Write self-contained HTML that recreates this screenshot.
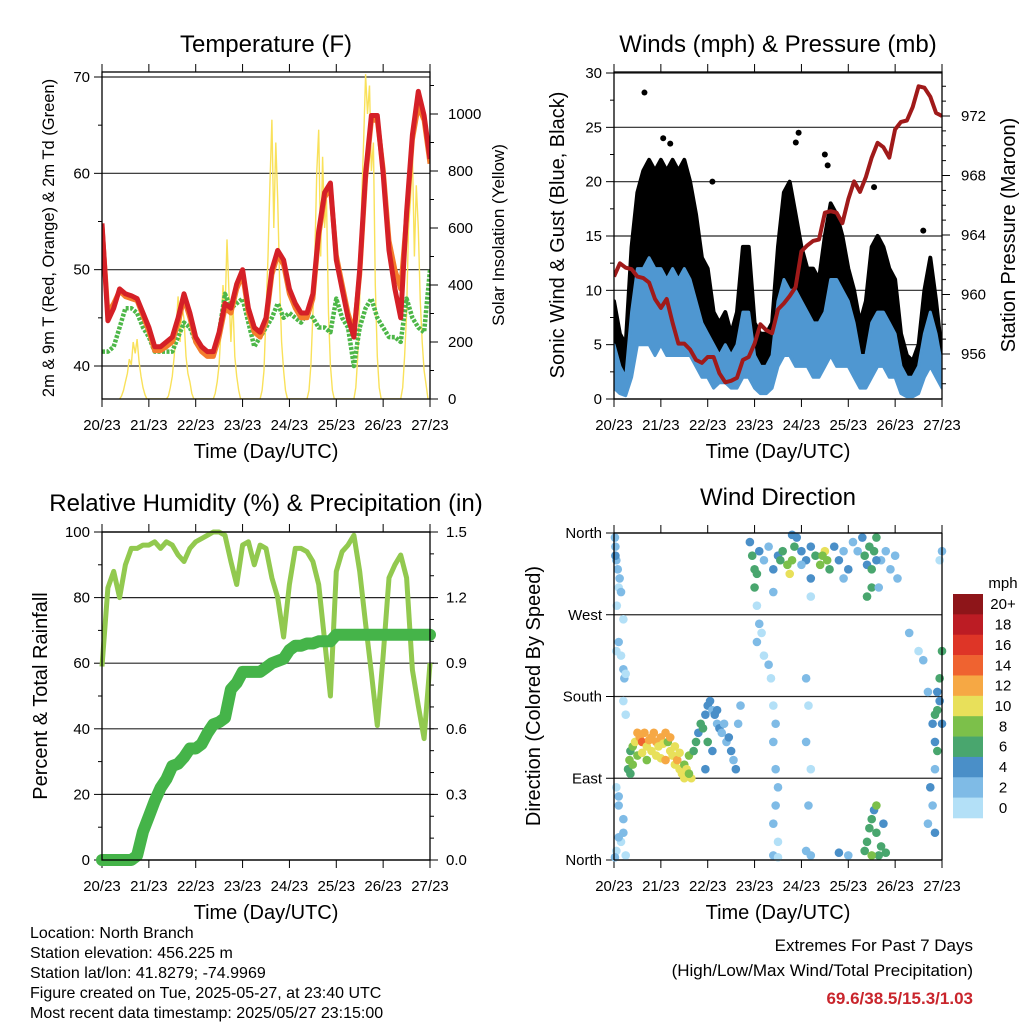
<!DOCTYPE html>
<html><head><meta charset="utf-8">
<style>
html,body{margin:0;padding:0;background:#fff;}
svg{display:block;font-family:"Liberation Sans",Arial,sans-serif;}
</style></head>
<body>
<svg id="fig" xmlns="http://www.w3.org/2000/svg" width="1024" height="1024" viewBox="0 0 1024 1024">
<rect x="0" y="0" width="1024" height="1024" fill="#fff"/>
<text x="266" y="52" font-size="24" text-anchor="middle">Temperature (F)</text>
<text x="778" y="52" font-size="24" text-anchor="middle">Winds (mph) &amp; Pressure (mb)</text>
<text x="266" y="511" font-size="24" text-anchor="middle">Relative Humidity (%) &amp; Precipitation (in)</text>
<text x="778" y="505" font-size="24" text-anchor="middle">Wind Direction</text>

<text transform="translate(54,238) rotate(-90)" font-size="16.5" text-anchor="middle">2m &amp; 9m T (Red, Orange) &amp; 2m Td (Green)</text>
<text transform="translate(504,235) rotate(-90)" font-size="17" text-anchor="middle">Solar Insolation (Yellow)</text>
<text transform="translate(564,235) rotate(-90)" font-size="20" text-anchor="middle">Sonic Wind &amp; Gust (Blue, Black)</text>
<text transform="translate(1015,235) rotate(-90)" font-size="20" text-anchor="middle">Station Pressure (Maroon)</text>
<text transform="translate(47,696) rotate(-90)" font-size="20" text-anchor="middle">Percent &amp; Total Rainfall</text>
<text transform="translate(540,696) rotate(-90)" font-size="20" text-anchor="middle">Direction (Colored By Speed)</text>

<text x="266" y="458" font-size="20" text-anchor="middle">Time (Day/UTC)</text>
<text x="778" y="458" font-size="20" text-anchor="middle">Time (Day/UTC)</text>
<text x="266" y="919" font-size="20" text-anchor="middle">Time (Day/UTC)</text>
<text x="778" y="919" font-size="20" text-anchor="middle">Time (Day/UTC)</text>

<g font-size="16">
<text x="30" y="938">Location: North Branch</text>
<text x="30" y="958">Station elevation: 456.225 m</text>
<text x="30" y="978">Station lat/lon: 41.8279; -74.9969</text>
<text x="30" y="998">Figure created on Tue, 2025-05-27, at 23:40 UTC</text>
<text x="30" y="1018">Most recent data timestamp: 2025/05/27 23:15:00</text>
</g>
<g font-size="17" text-anchor="end">
<text x="973" y="951">Extremes For Past 7 Days</text>
<text x="973" y="976">(High/Low/Max Wind/Total Precipitation)</text>
<text x="973" y="1004" fill="#c9252c" font-weight="bold">69.6/38.5/15.3/1.03</text>
</g>
<g id="layer"></g>
</svg>
<script>
// ---------- data (3-hourly, 57 samples from 20/23 to 27/23) ----------
var dayLabels = ["20/23","21/23","22/23","23/23","24/23","25/23","26/23","27/23"];
var tempRed = [54.8,44.7,46,48,47.5,47.3,47,45.5,44,42,42,42.5,43,45,47.5,45.5,43,42,41.5,41.5,43.5,46.5,46,48.5,50,46,44,43.5,45,50,52,51,48,46.5,45.5,45.5,47.5,54,58,59,51,48,45,43,50,60,66,66,60,52,48,45,56,64,68.5,66,61.5];
var tempOrange = [54.5,45.5,46.5,47.8,47.2,47,46.8,45.2,43.6,41.6,41.6,42,42.5,44.5,47,45,42.5,41.5,41,41,43,46,45.5,48,49.5,45.5,43.5,43,44.5,49.5,51.5,50.5,47.5,46,45,45,47,53.5,57.5,58.5,51.5,48.5,45.5,43.5,49.5,59.5,65.5,65.5,60.5,53,50,48,55.5,63.5,67,65.5,61];
var dewGreen = [41.5,41.5,42,44,46,46,45.5,44,43,41.5,41.5,41.5,41.5,43,44.5,44,42.5,41.5,41.5,41,43.5,47.5,46,46.5,47,44.5,42,43,44,45,46.5,45,45.5,45,44.5,45.5,45,44,44,43.5,47,45,44,40,44,46,47,45,44,43,43,42.5,47,45,44,43.5,50];
// hourly solar insolation, W/m2, per day (hours 10..23 after 20/23); night = 0
var solarDay1 = [10,30,60,90,140,120,200,160,210,130,80,40,15,0];
var solarDay2 = [10,40,80,150,250,360,200,330,280,150,90,60,20,0];
var solarDay3 = [20,60,120,250,400,300,560,380,200,350,150,80,30,0];
var solarDay4 = [30,100,300,500,750,980,600,900,700,400,200,100,30,0];
var solarDay5 = [30,120,300,500,800,945,500,850,600,700,300,120,30,0];
var solarDay6 = [40,150,350,700,900,1140,1000,1100,800,900,400,150,40,0];
var solarDay7 = [40,150,300,600,700,860,500,750,600,350,200,100,50,0];
var gustHi = [9,6,5,14,19,21,22,21,22,21,22,21,22,20,17,13,12,8,7,8,6,8,14,14,7,6,6,7,14,19,20,17,14,12,12,11,15,18,17,15,12,10,7,9,14,15,14,12,11,6,4,3.5,5,10,13,9,4];
var gustLo = [3,1,1,6,9,9,9,8,8,9,8,9,9,8,7,5,4,3,3,3,3,2,4,5,2,1,1.5,2,5,7,8,6,5,5,5,4,5,7,6,5,5,4,2,2,5,6,5,5,4,2,1.5,1,1.5,3,5,3,2];
var windHi = [5,3,2,8,12,12,13,12,12,11,12,11,12,11,9,7,6,5,4,5,4,5,8,8,4,3,3,4,9,11,10,10,9,8,7,7,8,11,11,10,9,7,4,4,7,8,8,7,6,3,2,2,3,6,8,6,3];
var windLo = [1,0.5,0.3,2,5,5,5,4,5,4,4,4,4,4,3,2,2,1,1.5,1.5,1,1,2,2,1,0.5,0.5,1,3,4,4,3,3,3,2,2,3,4,3,3,3,2,1,1,2,3,3,2,2,0.5,0.2,0.2,0.5,2,3,2,1];
var gustPeakDay = [0.65,3.94,1.05,1.2,3.88,4.5,4.56,2.1,5.55,6.6];
var gustPeakMph = [28.2,24.5,24,23.5,23.6,22.5,21.5,20,19.5,15.5];
var pressure = [961.2,962.1,961.8,961.7,961.2,961.1,960.8,959.7,959.1,959.7,958.1,956.7,956.7,956.3,955.6,955.4,955.8,955.8,954.7,954.1,954.2,954.4,955.6,955.8,956.7,958,957.6,957.4,959,959.4,959.9,960.5,962.9,963.3,963.6,963.7,965.5,965.6,965.5,964.8,966.4,967.6,966.9,967.9,969.2,970.2,969.9,969.2,971.1,971.6,971.7,972.6,974,973.9,973.3,972.2,972];
var humidity = [59,83,88,80,90,95,95,96,96,97,95,97,96,93,91,95,97,98,99,100,100,99,91,84,96,97,90,96,95,86,80,68,84,95,95,94,91,84,67,50,88,94,96,99,88,72,57,41,62,86,90,93,86,58,47,37,60];
var rainfall = [0,0,0,0,0,0,0.02,0.13,0.2,0.27,0.33,0.37,0.43,0.44,0.47,0.51,0.51,0.53,0.58,0.62,0.63,0.65,0.78,0.81,0.86,0.86,0.86,0.86,0.88,0.9,0.91,0.92,0.96,0.98,0.98,0.99,0.99,1,1,1,1.03,1.03,1.03,1.03,1.03,1.03,1.03,1.03,1.03,1.03,1.03,1.03,1.03,1.03,1.03,1.03,1.03];
// wind direction observations: day offset, direction (deg), speed (mph)
var dirObs = [
[0.02,355,2],[0.03,345,3],[0.05,330,3],[0.08,320,2],[0.1,300,1],[0.12,310,2],[0.15,295,2],[0.03,335,4],[0.06,280,1],[0.2,265,1],[0.1,240,3],[0.15,225,1],[0.2,210,2],[0.22,200,2],[0.25,205,1],[0.05,230,1],[0.2,175,1],[0.25,160,1],
[0.05,80,1],[0.1,60,2],[0.2,45,2],[0.2,30,2],[0.15,20,1],[0.1,25,2],[0.05,10,1],[0.02,3,3],[0.25,5,1],[0.1,70,2],
[0.3,100,6],[0.33,110,8],[0.35,120,7],[0.4,125,8],[0.45,130,10],[0.5,140,12],[0.55,135,13],[0.6,130,14],[0.65,140,12],[0.7,125,10],[0.75,132,12],[0.8,135,13],[0.85,140,13],[0.9,130,12],[0.95,125,11],[1.0,135,12],[1.05,128,10],[1.1,140,13],[1.15,130,9],[1.2,120,10],[1.25,115,11],[1.3,105,10],[1.35,110,12],[1.4,100,10],[1.45,95,11],[1.5,105,9],[1.55,100,10],[1.6,115,8],[1.65,90,10],[1.7,120,7],[1.75,130,6],[1.8,140,5],[1.85,150,6],[1.9,145,7],[0.4,105,9],[0.5,115,8],[0.6,118,11],[0.7,110,9],[0.8,120,11],[0.9,115,10],[1.0,112,11],[1.1,110,12],[1.2,135,12],[1.3,125,11],[1.4,118,10],[0.35,95,6],[1.5,90,10],[1.6,95,9],
[1.95,160,5],[2.0,170,4],[2.05,175,4],[2.1,165,3],[2.15,160,5],[2.2,150,3],[2.25,145,4],[2.3,140,3],[2.35,150,2],[2.4,130,3],[2.45,135,4],[2.5,120,4],[2.55,110,3],[2.6,100,4],[2.65,150,3],[2.7,170,2],[2.0,130,6],[2.1,120,5],[1.95,100,5],[2.2,165,4],
[2.9,350,4],[2.95,335,6],[3.0,320,6],[3.05,315,6],[3.1,340,4],[3.2,330,2],[3.3,345,3],[3.4,320,4],[3.5,335,5],[3.6,340,7],[3.7,325,9],[3.75,315,10],[3.8,330,8],[3.85,345,6],[3.9,355,4],[4.0,340,5],[4.1,330,4],[4.2,345,5],[4.3,335,7],[4.4,325,8],[4.5,340,10],[4.55,330,9],[4.6,320,7],[4.7,345,5],[4.8,330,4],[4.9,340,3],[5.0,320,4],[5.1,350,3],[5.2,340,2],[5.3,355,5],[5.35,335,6],[5.4,325,5],[5.45,345,7],[5.5,320,6],[5.55,340,6],[5.6,355,7],[5.7,330,3],[5.8,340,2],[5.9,320,2],[6.0,335,2],[5.5,300,6],[5.4,290,7],[3.8,358,5],[4.2,310,4],[4.0,325,3],[3.4,295,3],[3.0,300,7],[3.55,330,7],[4.45,335,9],[5.6,330,4],[6.05,310,2],[5.65,300,3],[4.9,310,2],
[3.05,280,1],[3.1,260,2],[3.15,250,1],[3.05,240,2],[3.2,225,1],[3.3,215,2],[3.35,200,1],[3.4,170,1],[3.45,150,2],[3.4,130,3],[3.45,100,3],[3.5,80,2],[3.45,60,2],[3.4,40,3],[3.5,20,1],[3.4,5,2],[3.5,3,1],
[4.2,290,1],[4.1,200,2],[4.15,170,1],[4.1,130,2],[4.2,100,1],[4.15,60,2],[4.1,10,3],[4.2,5,2],[5.0,5,3],[4.8,8,4],
[5.35,10,6],[5.4,20,6],[5.45,35,7],[5.5,45,6],[5.55,55,4],[5.6,60,8],[5.65,5,6],[5.7,15,6],[5.75,40,5],[5.8,8,6],[5.5,5,8],[5.6,30,7],
[6.3,250,2],[6.5,230,1],[6.6,220,2],[6.7,185,2],[6.8,150,4],[6.85,130,4],[6.9,165,6],[6.95,175,5],[7.0,150,4],[6.85,100,3],[6.75,80,4],[6.8,60,3],[6.7,40,2],[6.85,30,4],[6.9,120,7],[6.95,200,7],[7.0,230,6],[6.95,330,1],[7.0,340,2],[6.9,185,5],[6.85,160,6]
];
var speedLabels = ["20+","18","16","14","12","10","8","6","4","2","0"];
var speedColors = ["#8e1519","#bc1c24","#de3527","#ef6330","#f6a844","#e8e05a","#7cc04a","#49a66e","#4a8fc8","#7fbbe6","#b3e0f7"];

// ---------- drawing ----------
var NS = "http://www.w3.org/2000/svg";
var layer = document.getElementById('layer');
function mk(tag, attrs, parent) {
  var e = document.createElementNS(NS, tag);
  for (var k in attrs) e.setAttribute(k, attrs[k]);
  (parent || layer).appendChild(e);
  return e;
}
function lin(d0, d1, r0, r1) { return function (v) { return r0 + (v - d0) / (d1 - d0) * (r1 - r0); }; }
function pathFrom(xs, ys) { var s = ""; for (var i = 0; i < xs.length; i++) s += (i ? "L" : "M") + xs[i].toFixed(1) + "," + ys[i].toFixed(1); return s; }

function frame(L, R, T, B, name) {
  var g = mk('g', {});
  
  
  return g;
}
function xAxis(g, L, R, T, B, labelY) {
  var x = lin(0, 7, L, R);
  for (var i = 0; i < dayLabels.length; i++) {
    var px = x(i);
    mk('line', {x1: px, y1: B, x2: px, y2: B + 8, stroke: '#000', 'stroke-width': 1}, g);
    mk('line', {x1: px, y1: T, x2: px, y2: T - 8, stroke: '#000', 'stroke-width': 1}, g);
    var t = mk('text', {x: px, y: labelY, 'font-size': 15, 'text-anchor': 'middle'}, g);
    t.textContent = dayLabels[i];
    
    
  }
  return x;
}
function yAxisLeft(g, L, R, y, ticks, labels, minors, grid) {
  for (var i = 0; i < ticks.length; i++) {
    var py = y(ticks[i]);
    mk('line', {x1: L - 8, y1: py, x2: L, y2: py, stroke: '#000'}, g);
    if (grid) mk('line', {x1: L, y1: py, x2: R, y2: py, stroke: '#000', 'stroke-width': 1.2, 'stroke-opacity': 0.85}, g);
    var t = mk('text', {x: L - 12, y: py + 5, 'font-size': 15, 'text-anchor': 'end'}, g);
    t.textContent = labels[i];
    
    
  }
  for (var j = 0; j < minors.length; j++) mk('line', {x1: L - 4, y1: y(minors[j]), x2: L, y2: y(minors[j]), stroke: '#000'}, g);
}
function yAxisRight(g, R, y, ticks, labels, minors, lx) {
  for (var i = 0; i < ticks.length; i++) {
    var py = y(ticks[i]);
    mk('line', {x1: R, y1: py, x2: R + 8, y2: py, stroke: '#000'}, g);
    var t = mk('text', {x: lx, y: py + 5, 'font-size': 15}, g);
    t.textContent = labels[i];
    
    
  }
  for (var j = 0; j < minors.length; j++) mk('line', {x1: R, y1: y(minors[j]), x2: R + 4, y2: y(minors[j]), stroke: '#000'}, g);
}
function border(g, L, R, T, B) {
  mk('rect', {x: L, y: T, width: R - L, height: B - T, fill: 'none', stroke: '#000', 'stroke-width': 1.3}, g);
}
function range(a, b, s) { var r = []; for (var v = a; v <= b + 1e-9; v += s) r.push(+v.toFixed(3)); return r; }
function tIndexDays(n) { var r = []; for (var i = 0; i < n; i++) r.push(i / 8); return r; }

// ===== Panel 1: temperature =====
(function () {
  var L = 102, R = 430, T = 72, B = 399;
  var g = frame(L, R, T, B, 'temperature-panel');
  var x = xAxis(g, L, R, T, B, 430);
  var y = lin(40, 70, 366, 77);
  var ys = lin(0, 1000, 399, 114);
  yAxisLeft(g, L, R, y, [40, 50, 60, 70], ["40", "50", "60", "70"], [45, 55, 65], true);
  yAxisRight(g, R, ys, [0, 200, 400, 600, 800, 1000], ["0", "200", "400", "600", "800", "1000"], range(100, 1100, 100), 448);
  var cp = mk('clipPath', {id: 'c1'}, g); mk('rect', {x: L, y: T, width: R - L, height: B - T}, cp);
  var pg = mk('g', {'clip-path': 'url(#c1)'}, g);
  var days = [solarDay1, solarDay2, solarDay3, solarDay4, solarDay5, solarDay6, solarDay7];
  var sx = [], sy = [];
  for (var d = 0; d < days.length; d++) {
    sx.push(x(d + 9 / 24)); sy.push(ys(0));
    for (var h = 0; h < days[d].length; h++) { sx.push(x(d + (10 + h) / 24)); sy.push(ys(days[d][h])); }
  }
  var sp = mk('path', {d: pathFrom(sx, sy), fill: 'none', stroke: '#f9e15a', 'stroke-width': 1.4}, pg);
  
  
  var td = tIndexDays(tempRed.length);
  var xs = td.map(x);
  var gp = mk('path', {d: pathFrom(xs, dewGreen.map(y)), fill: 'none', stroke: '#4db748', 'stroke-width': 4.5, 'stroke-dasharray': '3 1.5', 'stroke-linejoin': 'round'}, pg);
  
  
  var op = mk('path', {d: pathFrom(xs, tempOrange.map(y)), fill: 'none', stroke: '#f47c2c', 'stroke-width': 5, 'stroke-linejoin': 'round'}, pg);
  
  
  var rp = mk('path', {d: pathFrom(xs, tempRed.map(y)), fill: 'none', stroke: '#d52027', 'stroke-width': 5, 'stroke-linejoin': 'round'}, pg);
  
  
  border(g, L, R, T, B);
})();

// ===== Panel 2: winds & pressure =====
(function () {
  var L = 614, R = 942, T = 72, B = 399;
  var g = frame(L, R, T, B, 'winds-panel');
  var x = xAxis(g, L, R, T, B, 430);
  var y = lin(0, 30, 399, 73);
  var yp = lin(956, 972, 354, 116);
  yAxisLeft(g, L, R, y, [0, 5, 10, 15, 20, 25, 30], ["0", "5", "10", "15", "20", "25", "30"], [2.5, 7.5, 12.5, 17.5, 22.5, 27.5], true);
  yAxisRight(g, R, yp, [956, 960, 964, 968, 972], ["956", "960", "964", "968", "972"], range(954, 974, 1), 961);
  var cp = mk('clipPath', {id: 'c2'}, g); mk('rect', {x: L, y: T, width: R - L, height: B - T}, cp);
  var pg = mk('g', {'clip-path': 'url(#c2)'}, g);
  var td = tIndexDays(gustHi.length), xs = td.map(x);
  var gb = mk('path', {d: pathFrom(xs, gustHi.map(y)) + pathFrom(xs.slice().reverse(), gustLo.map(y).reverse()).replace('M', 'L') + 'Z', fill: '#000', stroke: '#000', 'stroke-width': 4, 'stroke-linejoin': 'round'}, pg);
  
  
  for (var i = 0; i < gustPeakDay.length; i++) {
    var c = mk('circle', {cx: x(gustPeakDay[i]), cy: y(gustPeakMph[i]), r: 3, fill: '#000'}, pg);
    
    
  }
  var wb = mk('path', {d: pathFrom(xs, windHi.map(y)) + pathFrom(xs.slice().reverse(), windLo.map(y).reverse()).replace('M', 'L') + 'Z', fill: '#4f97d1', stroke: '#4f97d1', 'stroke-width': 3, 'stroke-linejoin': 'round'}, pg);
  
  
  var pp = mk('path', {d: pathFrom(xs, pressure.map(yp)), fill: 'none', stroke: '#a01a1a', 'stroke-width': 4, 'stroke-linejoin': 'round'}, pg);
  
  
  border(g, L, R, T, B);
})();

// ===== Panel 3: humidity & rainfall =====
(function () {
  var L = 102, R = 430, T = 532, B = 860;
  var g = frame(L, R, T, B, 'humidity-panel');
  var x = xAxis(g, L, R, T, B, 891);
  var y = lin(0, 100, 860, 532);
  var yr = lin(0, 1.5, 860, 532);
  yAxisLeft(g, L, R, y, [0, 20, 40, 60, 80, 100], ["0", "20", "40", "60", "80", "100"], [10, 30, 50, 70, 90], true);
  yAxisRight(g, R, yr, [0, 0.3, 0.6, 0.9, 1.2, 1.5], ["0.0", "0.3", "0.6", "0.9", "1.2", "1.5"], range(0.1, 1.5, 0.1), 446);
  var cp = mk('clipPath', {id: 'c3'}, g); mk('rect', {x: L - 8, y: T - 4, width: R - L + 16, height: B - T + 12}, cp);
  var pg = mk('g', {'clip-path': 'url(#c3)'}, g);
  var td = tIndexDays(humidity.length), xs = td.map(x);
  var hp = mk('path', {d: pathFrom(xs, humidity.map(y)), fill: 'none', stroke: '#92c94f', 'stroke-width': 5, 'stroke-linejoin': 'round'}, pg);
  
  
  var rp = mk('path', {d: pathFrom(xs, rainfall.map(yr)), fill: 'none', stroke: '#45b449', 'stroke-width': 12, 'stroke-linejoin': 'round', 'stroke-linecap': 'round'}, pg);
  
  
  border(g, L, R, T, B);
})();

// ===== Panel 4: wind direction =====
(function () {
  var L = 614, R = 942, T = 533, B = 860;
  var g = frame(L, R, T, B, 'wind-direction-panel');
  var x = xAxis(g, L, R, T, B, 891);
  var y = lin(0, 360, 860, 533);
  yAxisLeft(g, L, R, y, [0, 90, 180, 270, 360], ["North", "East", "South", "West", "North"], [], true);
  function col(s) { var k = Math.min(10, Math.floor(s / 2)); return speedColors[10 - k]; }
  for (var i = 0; i < dirObs.length; i++) {
    var o = dirObs[i];
    var c = mk('circle', {cx: x(o[0]), cy: y(o[1]), r: 4.3, fill: col(o[2])}, g);
    
    
  }
  mk('line', {x1: L, y1: T, x2: L, y2: B, stroke: '#000', 'stroke-width': 1.3}, g);
  mk('line', {x1: R, y1: T, x2: R, y2: B, stroke: '#000', 'stroke-width': 1.3}, g);
  mk('line', {x1: L, y1: B, x2: R, y2: B, stroke: '#000', 'stroke-width': 1.3}, g);
  mk('line', {x1: L, y1: T, x2: R, y2: T, stroke: '#000', 'stroke-width': 1.3}, g);
  var cb = mk('g', {});
  
  
  var t0 = mk('text', {x: 1003, y: 588, 'font-size': 15, 'text-anchor': 'middle'}, cb);
  t0.textContent = 'mph';
  
  
  var h = (818 - 594) / speedLabels.length;
  for (var j = 0; j < speedLabels.length; j++) {
    var r = mk('rect', {x: 953, y: 594 + j * h, width: 30, height: h + 0.3, fill: speedColors[j]}, cb);
    
    
    var t = mk('text', {x: 1003, y: 594 + j * h + h / 2 + 5, 'font-size': 15, 'text-anchor': 'middle'}, cb);
    t.textContent = speedLabels[j];
    
    
  }
})();
</script>
</body></html>
